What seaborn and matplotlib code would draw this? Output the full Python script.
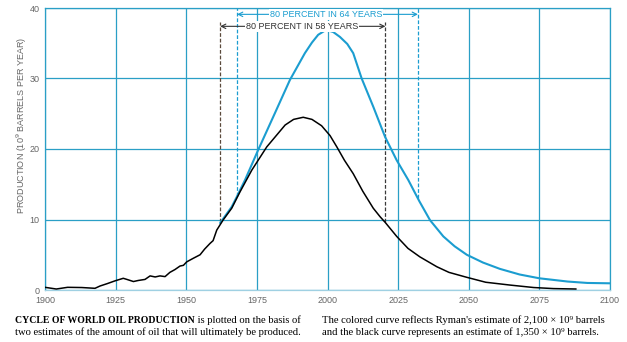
import matplotlib
matplotlib.use("Agg")
import matplotlib.pyplot as plt
import seaborn as sns
import pandas as pd

# ---- data ----
years_black = [1900, 1904, 1908, 1913, 1917.7, 1919.5, 1922, 1924.8, 1927.7, 1929, 1931.3, 1933,
               1935.4, 1937.2, 1939, 1940.7, 1942.5, 1944.2, 1946, 1947.8, 1949, 1950.2, 1952.5,
               1954.9, 1956.5, 1958.4, 1959.5, 1960.8, 1963, 1966.1, 1969, 1973.2, 1978.5, 1985,
               1988, 1991.4, 1994.5, 1997.9, 2000.9, 2003.3, 2006, 2009.1, 2012.5, 2016.2,
               2018.6, 2020.4, 2024.5, 2028.5, 2032.7, 2038.7, 2043, 2049.3, 2056, 2064.6, 2073,
               2080, 2088]
prod_black = [0.38, 0.14, 0.38, 0.35, 0.24, 0.57, 0.9, 1.3, 1.66, 1.5, 1.2, 1.35,
              1.5, 2.0, 1.85, 2.0, 1.9, 2.5, 2.9, 3.4, 3.5, 4.0, 4.5,
              5.0, 5.8, 6.6, 7.0, 8.5, 9.9, 11.6, 13.9, 17.0, 20.3, 23.4,
              24.2, 24.5, 24.2, 23.3, 21.9, 20.3, 18.4, 16.5, 14.0, 11.6,
              10.4, 9.6, 7.6, 5.9, 4.7, 3.3, 2.5, 1.8, 1.1, 0.7, 0.35,
              0.2, 0.14]

years_blue = [1962, 1966.1, 1968, 1970.8, 1975.5, 1981.4, 1986.7, 1992, 1994.5, 1996.7, 1999.5,
              2002, 2004.4, 2007, 2009.1, 2012.1, 2016.2, 2020.4, 2024.5, 2028.6, 2032.5, 2036.3,
              2041, 2045, 2049.3, 2055, 2061, 2068, 2075, 2085, 2092, 2100]
prod_blue = [9.5, 11.8, 13.3, 15.6, 19.9, 25.1, 29.8, 33.6, 35.1, 36.2, 36.9,
             36.6, 35.9, 34.9, 33.6, 30.0, 26.0, 21.7, 18.4, 15.6, 12.6, 9.9,
             7.6, 6.2, 5.0, 3.9, 3.0, 2.2, 1.66, 1.2, 1.0, 0.95]

span_black = [1962, 2020.5]   # 80 percent in 58 years
span_blue = [1968, 2032]      # 80 percent in 64 years
label_black = "80 PERCENT IN 58 YEARS"
label_blue = "80 PERCENT IN 64 YEARS"

x_ticks = [1900, 1925, 1950, 1975, 2000, 2025, 2050, 2075, 2100]
y_ticks = [0, 10, 20, 30, 40]

caption_left_bold = "CYCLE OF WORLD OIL PRODUCTION"
caption_left_rest = " is plotted on the basis of"
caption_left_line2 = "two estimates of the amount of oil that will ultimately be produced."
caption_right_line1 = "The colored curve reflects Ryman's estimate of 2,100 \u00d7 10\u2079 barrels"
caption_right_line2 = "and the black curve represents an estimate of 1,350 \u00d7 10\u2079 barrels."

# ---- style ----
sns.set_theme(style="white")
plt.rcParams['font.family'] = ['Liberation Sans', 'DejaVu Sans']

BLUE = "#1b9dd0"
GRID = "#2a9fc6"
GREY = "#666666"

fig = plt.figure(figsize=(6.27, 3.42), dpi=100)
ax = fig.add_axes([45/627, 52/342, 565/627, 282/342])

df_black = pd.DataFrame({"year": years_black, "prod": prod_black})
df_blue = pd.DataFrame({"year": years_blue, "prod": prod_blue})

sns.lineplot(data=df_blue, x="year", y="prod", ax=ax, color=BLUE, lw=1.5, zorder=4)
sns.lineplot(data=df_black, x="year", y="prod", ax=ax, color="black", lw=1.1, zorder=5)

ax.set_xlim(1900, 2100)
ax.set_ylim(0, 40)
ax.set_xticks(x_ticks)
ax.set_yticks(y_ticks)
ax.set_xticklabels([str(t) for t in x_ticks], fontsize=6.5, color=GREY)
ax.set_yticklabels([str(t) for t in y_ticks], fontsize=6.5, color=GREY)
ax.tick_params(length=0, pad=4)
ax.set_xlabel("")
ax.set_ylabel("PRODUCTION (10$^{9}$ BARRELS PER YEAR)", fontsize=6.5, color=GREY)
ax.yaxis.set_label_coords(-0.028, 0.585)

ax.grid(True, color=GRID, lw=0.9)
ax.set_axisbelow(True)
for s in ["left", "top", "right"]:
    ax.spines[s].set_color(GRID)
    ax.spines[s].set_linewidth(0.9)
ax.spines["bottom"].set_color("#9fd0e2")
ax.spines["bottom"].set_linewidth(0.9)

# dashed markers
ax.plot([span_black[0]]*2, [9.7, 38.0], ls=(0, (3, 1.5)), color="#5b4a3c", lw=0.9, zorder=3)
ax.plot([span_black[1]]*2, [9.6, 38.0], ls=(0, (3, 1.5)), color="#3a3a3a", lw=0.9, zorder=3)
ax.plot([span_blue[0]]*2, [13.3, 40.0], ls=(0, (3, 1.5)), color=BLUE, lw=0.9, zorder=3)
ax.plot([span_blue[1]]*2, [13.0, 40.0], ls=(0, (3, 1.5)), color=BLUE, lw=0.9, zorder=3)

# arrows with labels
y_blue_arrow = 39.1
y_black_arrow = 37.4
ax.annotate("", xy=(span_blue[0], y_blue_arrow), xytext=(span_blue[1], y_blue_arrow),
            arrowprops=dict(arrowstyle="<->", color=BLUE, lw=0.8, shrinkA=0, shrinkB=0,
                            mutation_scale=8), zorder=6)
ax.text(1999.5, y_blue_arrow, label_blue, fontsize=6.5, color=BLUE, ha="center", va="center",
        bbox=dict(facecolor="white", edgecolor="none", pad=0.8), zorder=7)
ax.annotate("", xy=(span_black[0], y_black_arrow), xytext=(span_black[1], y_black_arrow),
            arrowprops=dict(arrowstyle="<->", color="#333333", lw=0.8, shrinkA=0, shrinkB=0,
                            mutation_scale=8), zorder=6)
ax.text(1991, y_black_arrow, label_black, fontsize=6.5, color="#333333", ha="center", va="center",
        bbox=dict(facecolor="white", edgecolor="none", pad=0.8), zorder=7)

# captions
fam = ["Liberation Serif", "DejaVu Serif"]
cap_kw = dict(fontsize=7.7, color="#000000", family=fam)
t1 = fig.text(15/627, 1 - 323/342, caption_left_bold, fontweight="bold", va="baseline",
              fontsize=7.0, color="#000000", family=fam)
ax.annotate(caption_left_rest, xy=(1, 0), xycoords=t1, va="bottom", ha="left",
            annotation_clip=False, **cap_kw)
fig.text(15/627, 1 - 335/342, caption_left_line2, va="baseline", **cap_kw)
fig.text(322/627, 1 - 323/342, caption_right_line1, va="baseline", **cap_kw)
fig.text(322/627, 1 - 335/342, caption_right_line2, va="baseline", **cap_kw)

fig.savefig("out.png", dpi=100)
